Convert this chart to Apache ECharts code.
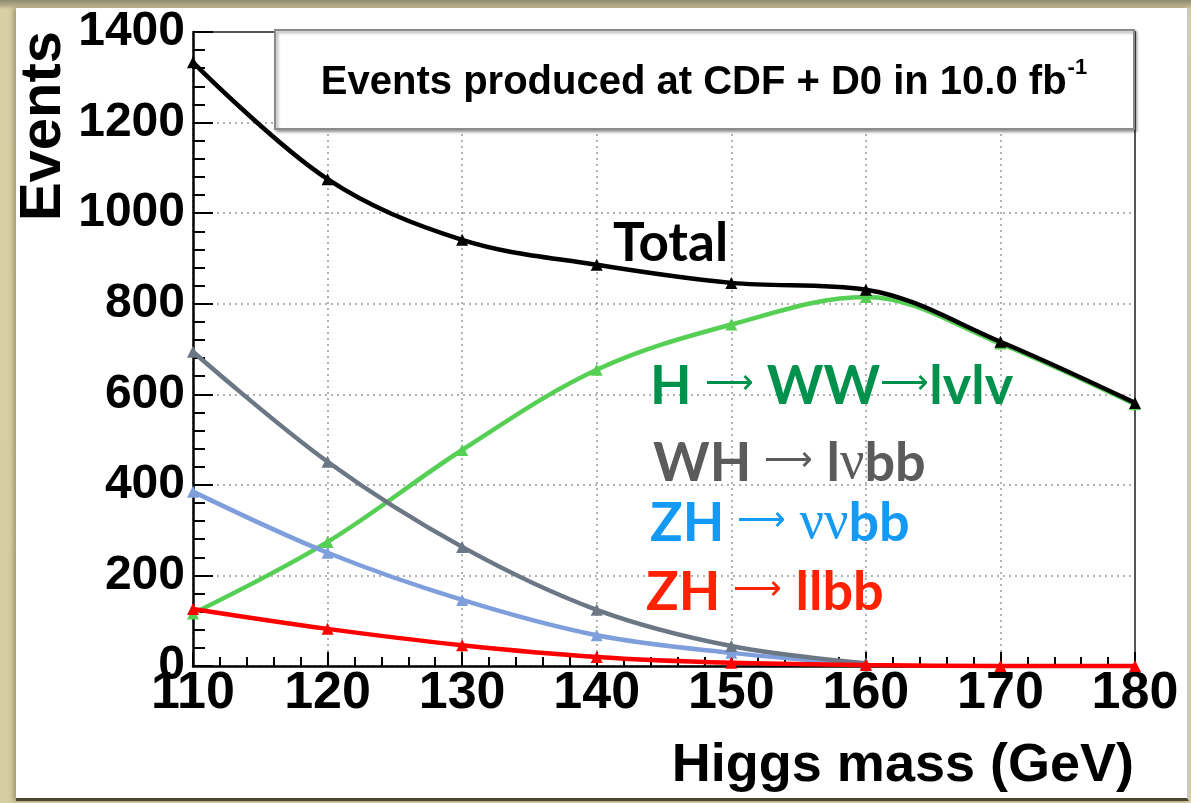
<!DOCTYPE html>
<html>
<head>
<meta charset="utf-8">
<script src="https://cdn.jsdelivr.net/npm/echarts@6/dist/echarts.min.js"></script>
<style>
  html, body { margin: 0; padding: 0; }
  body {
    width: 1191px; height: 803px; overflow: hidden; position: relative;
    background: linear-gradient(180deg, #8f8a6e 0px, #b9b08a 6px, #d8cfa6 9px, #d6cda3 100%);
  }
  #paper {
    position: absolute; left: 16px; top: 8px; width: 1171px; height: 790px;
    background: #ffffff; border-right: 2px solid #c9c9c9; border-bottom: 3px solid #4b4631;
    box-shadow: -3px 0 4px rgba(120,110,70,0.5);
  }
  #chart { position: absolute; left: 0; top: 0; width: 1191px; height: 803px; }
</style>
</head>
<body>
<div id="paper"></div>
<div id="chart"></div>
<script>
// ---- data ----
const masses  = [110, 120, 130, 140, 150, 160, 170, 180];
const total   = [1333, 1075, 941, 886, 846, 831, 716, 581];
const hww     = [116, 274, 477, 654, 754, 815, 712, 578];
const whlvbb  = [694, 451, 263, 124, 44, 6, null, null];
const zhvvbb  = [385, 250, 146, 68, 29, 3, null, null];
const zhllbb  = [126, 82, 46, 20, 7, 2, 0, 0];
const yTicks  = [0, 200, 400, 600, 800, 1000, 1200, 1400];
const xTicks  = [110, 120, 130, 140, 150, 160, 170, 180];

const pairs = (ys) => masses.map((m, i) => [m, ys[i]]);

const chart = echarts.init(document.getElementById('chart'), null, { renderer: 'canvas' });

const labelFont = 'Liberation Sans, Arial, Helvetica, sans-serif';
const annFont = 'Lato, Noto Sans, sans-serif';
const arrowFont = '300 34px DejaVu Sans, sans-serif';

function lineSeries(name, ys, color, z, clip) {
  return {
    name, type: 'line', data: pairs(ys), smooth: 0.35, z,
    clip: clip,
    symbol: 'triangle', symbolSize: 12,
    lineStyle: { color, width: 4.5 },
    itemStyle: { color },
    connectNulls: false,
    emphasis: { disabled: true }
  };
}

function ann(x, y, text, color) {
  return {
    type: 'text', z: 11, x, y,
    style: {
      text, align: 'left', verticalAlign: 'middle',
      rich: {
        a: { font: 'bold 54px ' + annFont, fill: color },
        n: { font: '54px Liberation Serif, DejaVu Serif, serif', fill: color },
        r: { font: arrowFont, fill: color, padding: [0, 0, 6, 0] }
      }
    }
  };
}

const option = {
  animation: false,
  backgroundColor: 'transparent',
  grid: { left: 193, top: 32, right: 56, bottom: 137, containLabel: false },
  xAxis: [{
    type: 'value', min: 110, max: 180, interval: 10,
    axisLine: { show: true, onZero: false, lineStyle: { color: '#000', width: 2.5 } },
    axisTick: { show: true, inside: true, length: 14, lineStyle: { color: '#000', width: 2 } },
    minorTick: { show: true, splitNumber: 5, length: 9, lineStyle: { color: '#000', width: 2 } },
    splitLine: { show: true, lineStyle: { color: '#999', width: 1.5, type: [2, 4] } },
    axisLabel: {
      color: '#000', fontFamily: labelFont, fontWeight: 'bold', fontSize: 52, margin: 2,
      formatter: (v) => (xTicks.indexOf(v) >= 0 ? String(v) : '')
    }
  }, {
    type: 'value', min: 110, max: 180, interval: 10, position: 'top',
    axisLine: { show: true, onZero: false, lineStyle: { color: '#555', width: 2 } },
    axisTick: { show: false }, axisLabel: { show: false }, splitLine: { show: false }
  }],
  yAxis: [{
    type: 'value', min: 0, max: 1400, interval: 200,
    axisLine: { show: true, lineStyle: { color: '#000', width: 2.5 } },
    axisTick: { show: true, inside: true, length: 20, lineStyle: { color: '#000', width: 2 } },
    minorTick: { show: true, splitNumber: 5, length: 12, lineStyle: { color: '#000', width: 2 } },
    splitLine: { show: true, lineStyle: { color: '#999', width: 1.5, type: [2, 4] } },
    axisLabel: {
      color: '#000', fontFamily: labelFont, fontWeight: 'bold', fontSize: 48, margin: 8,
      formatter: (v) => (yTicks.indexOf(v) >= 0 ? String(v) : '')
    }
  }, {
    type: 'value', min: 0, max: 1400, interval: 200, position: 'right',
    axisLine: { show: true, lineStyle: { color: '#555', width: 2 } },
    axisTick: { show: false }, axisLabel: { show: false }, splitLine: { show: false }
  }],
  series: [
    lineSeries('H → WW → lνlν', hww, '#55d055', 3, true),
    lineSeries('ZH → ννbb', zhvvbb, '#7f9fdc', 4, true),
    lineSeries('WH → lνbb', whlvbb, '#6c7785', 5, true),
    lineSeries('Total', total, '#000000', 6, true),
    lineSeries('ZH → llbb', zhllbb, '#ff0000', 7, false)
  ],
  graphic: [
    // title box
    {
      type: 'rect', z: 10, left: 274, top: 29,
      shape: { width: 859, height: 99 },
      style: { fill: '#fff', stroke: '#8a8a8a', lineWidth: 2,
               shadowColor: 'rgba(0,0,0,0.35)', shadowBlur: 3, shadowOffsetX: 2, shadowOffsetY: 2 }
    },
    {
      type: 'text', z: 11, x: 704, y: 80,
      style: {
        text: '{m|Events produced at CDF + D0 in 10.0 fb}{s|-1}',
        align: 'center', verticalAlign: 'middle',
        rich: {
          m: { font: 'bold 40px ' + labelFont, fill: '#000', lineHeight: 46, verticalAlign: 'bottom' },
          s: { font: 'bold 22px ' + labelFont, fill: '#000', lineHeight: 46, verticalAlign: 'top', padding: [0, 0, 19, 1] }
        }
      }
    },
    // y axis title
    {
      type: 'text', z: 11, x: 44, y: 126, rotation: Math.PI / 2,
      style: { text: 'Events', font: 'bold 58px ' + labelFont, fill: '#000', align: 'center', verticalAlign: 'middle' }
    },
    // x axis title
    {
      type: 'text', z: 11, x: 1134, y: 766,
      style: { text: 'Higgs mass (GeV)', font: 'bold 54px ' + labelFont, fill: '#000', align: 'right', verticalAlign: 'middle' }
    },
    // annotations
    {
      type: 'text', z: 11, x: 613, y: 244,
      style: { text: 'Total', font: 'bold 53px ' + annFont, fill: '#000', align: 'left', verticalAlign: 'middle' }
    },
    ann(650, 387, '{a|H }{r|⟶}{a| WW}{r|⟶}{a|lvlv}', '#00914c'),
    ann(653, 464, '{a|WH }{r|⟶}{a| l}{n|ν}{a|bb}', '#5b5b5b'),
    ann(650, 524, '{a|ZH }{r|⟶}{a| }{n|νν}{a|bb}', '#1499f5'),
    ann(646, 593, '{a|ZH }{r|⟶}{a| llbb}', '#ff2200')
  ]
};

chart.setOption(option);
</script>
</body>
</html>
